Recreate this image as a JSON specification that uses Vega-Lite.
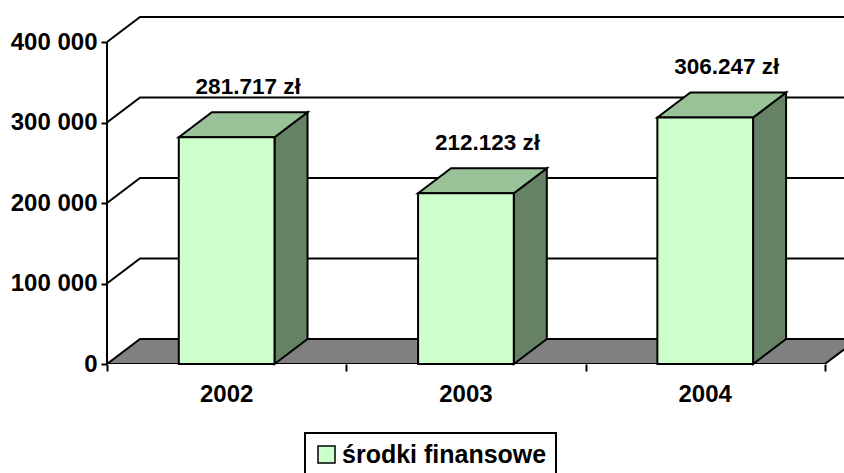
{
  "$schema": "https://vega.github.io/schema/vega-lite/v6.json",
  "autosize": {"type": "none"},
  "padding": {"left": 107, "top": 15, "right": 0, "bottom": 109},
  "width": 737,
  "height": 349,
  "background": "white",
  "config": {"view": {"stroke": null}, "font": "Liberation Sans", "legend": {"strokeWidth": 2}},
  "data": {"values": [
    {"year": 2002, "value": 281717},
    {"year": 2003, "value": 212123},
    {"year": 2004, "value": 306247}
  ]},
  "layer": [
    {
      "transform": [
        {"aggregate": [{"op": "min", "field": "year", "as": "y0"}, {"op": "max", "field": "year", "as": "y1"}]},
        {"calculate": "[100000, 200000, 300000, 400000]", "as": "v"},
        {"flatten": ["v"]},
        {"calculate": "[0, 1, 2]", "as": "k"},
        {"flatten": ["k"]},
        {"calculate": "datum.k == 2 ? datum.y1 + 0.638 : datum.y0 - 0.5 + datum.k * 0.138", "as": "gx"},
        {"calculate": "datum.v + (datum.k == 0 ? 0 : 31100)", "as": "gy"}
      ],
      "mark": {"type": "line", "color": "black", "strokeWidth": 2, "clip": true},
      "encoding": {
        "x": {"field": "gx", "type": "quantitative", "title": null, "scale": {"domain": [2001.5, 2004.58], "nice": false, "zero": false},
          "axis": {"values": [2001.5, 2002.5, 2003.5, 2004.5], "labels": false, "domain": false, "grid": false, "tickSize": 7, "tickWidth": 2, "tickColor": "black", "title": null}},
        "y": {"field": "gy", "type": "quantitative", "title": null, "scale": {"domain": [0, 433600], "nice": false, "zero": true},
          "axis": {"values": [0, 100000, 200000, 300000, 400000], "domain": false, "grid": false, "tickSize": 6, "tickWidth": 2, "tickColor": "black", "labelFont": "Liberation Sans", "labelFontWeight": "bold", "labelFontSize": 24, "labelColor": "black", "labelPadding": 4, "labelExpr": "replace(format(datum.value, ',d'), ',', ' ')", "title": null}},
        "detail": {"field": "v", "type": "nominal"},
        "order": {"field": "k", "type": "quantitative"}
      }
    },
    {
      "transform": [
        {"aggregate": [{"op": "min", "field": "year", "as": "y0"}, {"op": "max", "field": "year", "as": "y1"}]},
        {"calculate": "[0, 1, 2, 3]", "as": "k"},
        {"flatten": ["k"]},
        {"calculate": "(datum.k < 2 ? datum.y0 - 0.5 : datum.y1 + 0.5) + (datum.k % 2) * 0.138", "as": "fx"},
        {"calculate": "datum.k == 0 ? 0 : 31100", "as": "fy"},
        {"calculate": "datum.k == 3 ? 31100 : 0", "as": "fy2"}
      ],
      "mark": {"type": "area", "fill": "#808080", "stroke": "black", "strokeWidth": 2, "clip": true, "strokeJoin": "miter"},
      "encoding": {
        "x": {"field": "fx", "type": "quantitative", "title": null, "scale": {"domain": [2001.5, 2004.58], "nice": false, "zero": false}},
        "y": {"field": "fy", "type": "quantitative", "title": null, "stack": null, "scale": {"domain": [0, 433600], "nice": false, "zero": true}},
        "y2": {"field": "fy2"}
      }
    },
    {
      "transform": [{"aggregate": [{"op": "count", "as": "n"}]}],
      "mark": {"type": "rule", "color": "black", "strokeWidth": 2},
      "encoding": {
        "x": {"datum": 2001.5, "type": "quantitative", "title": null, "scale": {"domain": [2001.5, 2004.58], "nice": false, "zero": false}},
        "y": {"datum": 0, "type": "quantitative", "title": null, "scale": {"domain": [0, 433600], "nice": false, "zero": true}},
        "y2": {"datum": 400000}
      }
    },
    {
      "transform": [
        {"calculate": "[0, 1]", "as": "k"},
        {"flatten": ["k"]},
        {"calculate": "datum.year + 0.2 + datum.k * 0.138", "as": "sx"},
        {"calculate": "datum.value + datum.k * 31100", "as": "sy"},
        {"calculate": "datum.k * 31100", "as": "sy2"}
      ],
      "mark": {"type": "area", "fill": "#658265", "stroke": "black", "strokeWidth": 2, "strokeJoin": "miter"},
      "encoding": {
        "x": {"field": "sx", "type": "quantitative", "title": null, "scale": {"domain": [2001.5, 2004.58], "nice": false, "zero": false}},
        "y": {"field": "sy", "type": "quantitative", "title": null, "stack": null, "scale": {"domain": [0, 433600], "nice": false, "zero": true}},
        "y2": {"field": "sy2"},
        "detail": {"field": "year", "type": "nominal"}
      }
    },
    {
      "transform": [
        {"calculate": "[0, 1, 2, 3]", "as": "k"},
        {"flatten": ["k"]},
        {"calculate": "datum.year - 0.2 + ((datum.k % 2) * 0.138) + (datum.k >= 2 ? 0.4 : 0)", "as": "tx"},
        {"calculate": "datum.value + (datum.k == 0 ? 0 : 31100)", "as": "ty"},
        {"calculate": "datum.value + (datum.k == 3 ? 31100 : 0)", "as": "ty2"}
      ],
      "mark": {"type": "area", "fill": "#99C299", "stroke": "black", "strokeWidth": 2, "strokeJoin": "miter"},
      "encoding": {
        "x": {"field": "tx", "type": "quantitative", "title": null, "scale": {"domain": [2001.5, 2004.58], "nice": false, "zero": false}},
        "y": {"field": "ty", "type": "quantitative", "title": null, "stack": null, "scale": {"domain": [0, 433600], "nice": false, "zero": true}},
        "y2": {"field": "ty2"},
        "detail": {"field": "year", "type": "nominal"}
      }
    },
    {
      "transform": [
        {"calculate": "datum.year - 0.2", "as": "bx0"},
        {"calculate": "datum.year + 0.2", "as": "bx1"}
      ],
      "mark": {"type": "bar", "stroke": "black", "strokeWidth": 2, "opacity": 1},
      "encoding": {
        "x": {"field": "bx0", "type": "quantitative", "title": null, "scale": {"domain": [2001.5, 2004.58], "nice": false, "zero": false}},
        "x2": {"field": "bx1"},
        "y": {"field": "value", "type": "quantitative", "title": null, "stack": null, "scale": {"domain": [0, 433600], "nice": false, "zero": true}},
        "y2": {"datum": 0},
        "color": {"datum": "środki finansowe", "type": "nominal",
          "scale": {"domain": ["środki finansowe"], "range": ["#CCFFCC"]},
          "legend": {"title": null, "orient": "none", "legendX": 198, "legendY": 418, "padding": 9, "strokeColor": "black", "symbolType": "square", "symbolSize": 289, "symbolStrokeColor": "black", "symbolStrokeWidth": 1.5, "symbolOpacity": 1, "labelFont": "Liberation Sans", "labelFontWeight": "bold", "labelFontSize": 25, "labelColor": "black", "labelOffset": 3, "labelLimit": 400}}
      }
    },
    {
      "transform": [
        {"calculate": "replace(format(datum.value, ',d'), ',', '.') + ' zł'", "as": "lbl"},
        {"calculate": "datum.year + 0.069", "as": "lx"},
        {"calculate": "datum.value + 31100", "as": "ly"}
      ],
      "mark": {"type": "text", "font": "Liberation Sans", "fontWeight": "bold", "fontSize": 22.5, "color": "black", "baseline": "alphabetic", "align": "center", "dx": 5, "dy": -18},
      "encoding": {
        "x": {"field": "lx", "type": "quantitative", "title": null, "scale": {"domain": [2001.5, 2004.58], "nice": false, "zero": false}},
        "y": {"field": "ly", "type": "quantitative", "title": null, "scale": {"domain": [0, 433600], "nice": false, "zero": true}},
        "text": {"field": "lbl", "type": "nominal"}
      }
    },
    {
      "mark": {"type": "text", "font": "Liberation Sans", "fontWeight": "bold", "fontSize": 24, "color": "black", "baseline": "alphabetic", "align": "center", "dy": 38},
      "encoding": {
        "x": {"field": "year", "type": "quantitative", "title": null, "scale": {"domain": [2001.5, 2004.58], "nice": false, "zero": false}},
        "y": {"datum": 0, "type": "quantitative", "title": null, "scale": {"domain": [0, 433600], "nice": false, "zero": true}},
        "text": {"field": "year", "type": "quantitative", "format": "d"}
      }
    }
  ]
}
